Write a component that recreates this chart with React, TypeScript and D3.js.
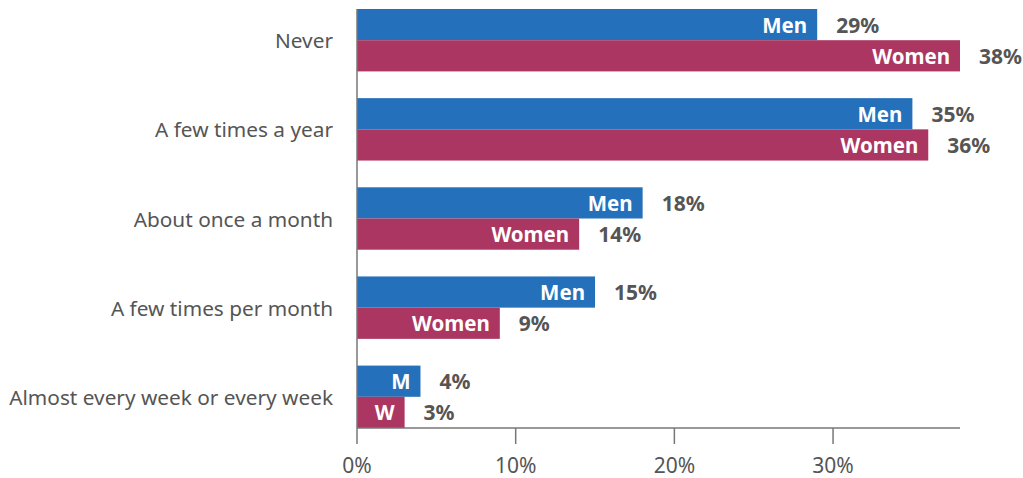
import React from "react";
import * as d3 from "d3";

const categories = [
  "Never",
  "A few times a year",
  "About once a month",
  "A few times per month",
  "Almost every week or every week",
];
const menValues = [29, 35, 18, 15, 4];
const womenValues = [38, 36, 14, 9, 3];
const menLabels = ["Men", "Men", "Men", "Men", "M"];
const womenLabels = ["Women", "Women", "Women", "Women", "W"];
const xTicks = [0, 10, 20, 30];

const W = 1023;
const H = 478;
const FONT = "'Noto Sans', sans-serif";
const BLUE = "#2570BA";
const PINK = "#AB3661";
const GREY = "#555555";

export default function App() {
  const x = d3.scaleLinear().domain([0, 38]).range([357, 960]);
  const y = d3
    .scaleBand<string>()
    .domain(categories)
    .range([9, 428])
    .paddingInner(0.3)
    .paddingOuter(0);
  const bw = y.bandwidth();
  const half = bw / 2;
  const axisY = 428;

  return (
    <svg
      width={W}
      height={H}
      style={{ position: "absolute", left: 0, top: 0, fontFamily: FONT }}
    >
      {categories.map((c, i) => {
        const y0 = y(c)!;
        const series = [
          { v: menValues[i], label: menLabels[i], color: BLUE, yy: y0 },
          { v: womenValues[i], label: womenLabels[i], color: PINK, yy: y0 + half },
        ];
        return (
          <g key={c}>
            <text
              x={333}
              y={y0 + half}
              textAnchor="end"
              dominantBaseline="central"
              fontSize={20.8}
              fill={GREY}
            >
              {c}
            </text>
            {series.map((s, j) => (
              <g key={j}>
                <rect
                  x={x(0)}
                  y={s.yy}
                  width={x(s.v) - x(0)}
                  height={half}
                  fill={s.color}
                />
                <text
                  x={x(s.v) - 10}
                  y={s.yy + half / 2}
                  textAnchor="end"
                  dominantBaseline="central"
                  fontSize={20.5}
                  fontWeight="bold"
                  fill="#ffffff"
                >
                  {s.label}
                </text>
                <text
                  x={x(s.v) + 19}
                  y={s.yy + half / 2}
                  textAnchor="start"
                  dominantBaseline="central"
                  fontSize={21}
                  fontWeight="bold"
                  fill={GREY}
                >
                  {s.v}%
                </text>
              </g>
            ))}
          </g>
        );
      })}
      <line x1={x(0)} x2={x(0)} y1={9} y2={axisY} stroke="#777" strokeWidth={1.5} />
      <line x1={x(0)} x2={x(38)} y1={axisY} y2={axisY} stroke="#777" strokeWidth={1.5} />
      {xTicks.map((t) => (
        <g key={t}>
          <line x1={x(t)} x2={x(t)} y1={axisY} y2={axisY + 16} stroke="#777" strokeWidth={1.5} />
          <text
            x={x(t)}
            y={473}
            textAnchor="middle"
            fontSize={21}
            fill={GREY}
          >
            {t}%
          </text>
        </g>
      ))}
    </svg>
  );
}
